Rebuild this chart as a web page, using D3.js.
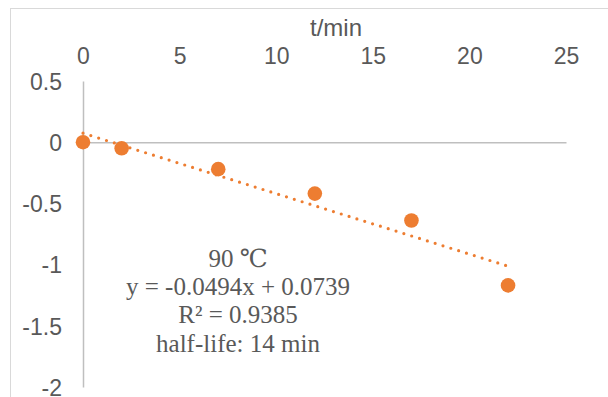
<!DOCTYPE html>
<html>
<head>
<meta charset="utf-8">
<script src="https://cdn.jsdelivr.net/npm/d3@7"></script>
<style>
  html, body { margin: 0; padding: 0; background: #fff; }
  svg { display: block; }
</style>
</head>
<body>
<svg id="chart" width="608" height="397"></svg>
<script>
// ---- data ----
const times = [0, 2, 7, 12, 17, 22];
const lnValues = [0, -0.05, -0.22, -0.42, -0.64, -1.17];
const xTicks = [0, 5, 10, 15, 20, 25];
const yTicks = [0.5, 0, -0.5, -1, -1.5, -2];
const trendSlope = -0.0494;
const trendIntercept = 0.0739;
const trendRange = [0, 22];
const xTitle = "t/min";
const annotationLines = ["90 \u2103", "y = -0.0494x + 0.0739", "R\u00B2 = 0.9385", "half-life: 14 min"];

// ---- layout ----
const svg = d3.select("#chart");
const orange = "#ED7D31";
const axisGray = "#BFBFBF";
const textGray = "#595959";
const sans = "Liberation Sans, Arial, sans-serif";
const serif = "'Liberation Serif', 'DejaVu Serif', 'Times New Roman', serif";

const x = d3.scaleLinear().domain([0, 25]).range([83, 566]);
const y = d3.scaleLinear().domain([-2, 0.5]).range([387, 81]);

// chart border
svg.append("rect").attr("x", 10.5).attr("y", 8.5).attr("width", 700).attr("height", 500)
  .attr("fill", "none").attr("stroke", "#D9D9D9").attr("stroke-width", 1);

// x axis at y=0 (labels on top)
const xAxis = d3.axisTop(x).tickValues(xTicks).tickSize(0).tickPadding(0).tickFormat(d3.format("d"));
const gx = svg.append("g").attr("transform", `translate(0,${y(0)})`).call(xAxis);
gx.select(".domain").attr("stroke", axisGray).attr("stroke-width", 1.5);
gx.selectAll(".tick text")
  .attr("y", 63.5 - y(0)).attr("dy", 0)
  .attr("fill", textGray).attr("font-family", sans).attr("font-size", 23);

// y axis at x=0
const yAxis = d3.axisLeft(y).tickValues(yTicks).tickSize(0).tickPadding(0).tickFormat(d => String(d));
const gy = svg.append("g").attr("transform", `translate(${x(0)},0)`).call(yAxis);
gy.select(".domain").attr("stroke", axisGray).attr("stroke-width", 1.5);
gy.selectAll(".tick text")
  .attr("x", 62 - x(0)).attr("dy", "0.36em")
  .attr("fill", textGray).attr("font-family", sans).attr("font-size", 23);

// x axis title
svg.append("text").attr("x", 336).attr("y", 35.5).attr("text-anchor", "middle")
  .attr("fill", textGray).attr("font-family", sans).attr("font-size", 24)
  .text(xTitle);

// trendline
const trendPts = trendRange.map(t => [t, trendSlope * t + trendIntercept]);
svg.append("path")
  .attr("d", d3.line().x(d => x(d[0])).y(d => y(d[1]))(trendPts))
  .attr("fill", "none").attr("stroke", orange).attr("stroke-width", 3.2)
  .attr("stroke-linecap", "round").attr("stroke-dasharray", "0 8.2");

// markers
svg.append("g").selectAll("circle").data(times.map((t, i) => [t, lnValues[i]])).join("circle")
  .attr("cx", d => x(d[0])).attr("cy", d => y(d[1])).attr("r", 7.3).attr("fill", orange);

// annotation
const ann = svg.append("text").attr("text-anchor", "middle")
  .attr("fill", textGray).attr("font-family", serif).attr("font-size", 25);
annotationLines.forEach((s, i) => {
  ann.append("tspan").attr("x", 238).attr("y", 266.7 + i * 28.35).text(s);
});
</script>
</body>
</html>
